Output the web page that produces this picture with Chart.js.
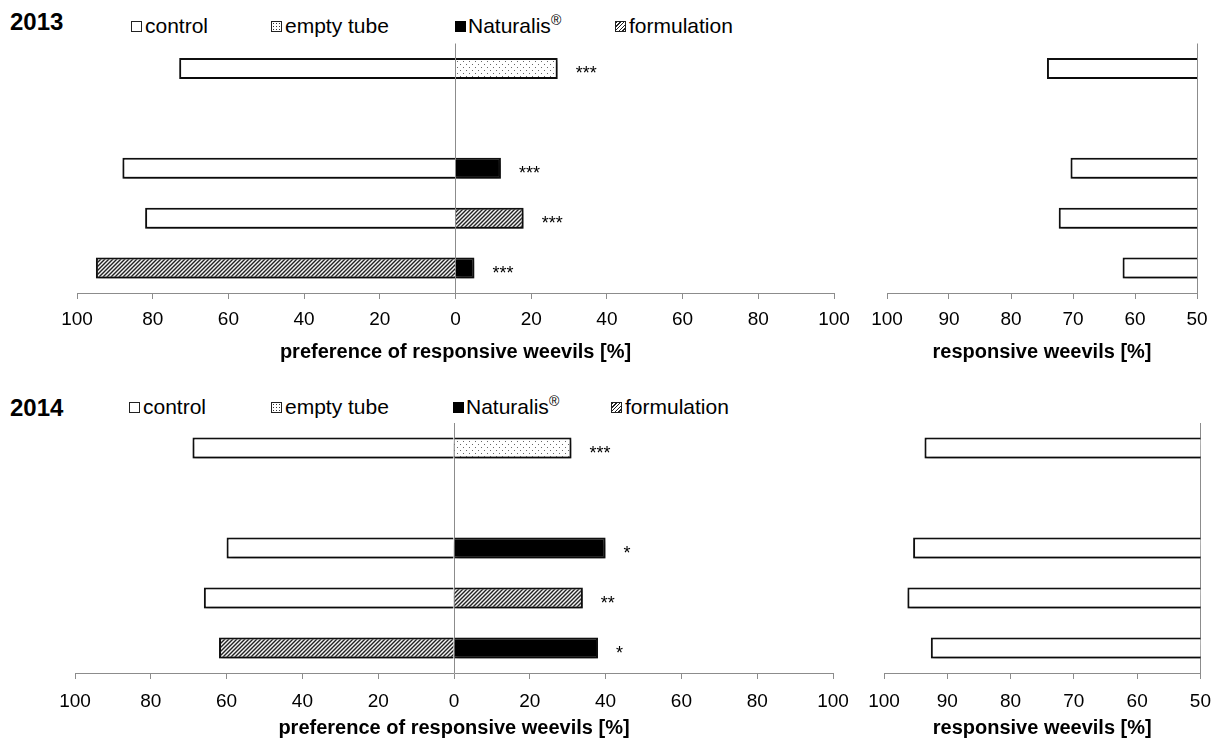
<!DOCTYPE html>
<html><head><meta charset="utf-8">
<script src="https://cdn.jsdelivr.net/npm/chart.js@4/dist/chart.umd.min.js"></script>
<style>
body{margin:0;background:#fff;width:1220px;height:740px;overflow:hidden;position:relative;font-family:"Liberation Sans",Arial,sans-serif;color:#000}
canvas{position:absolute}
.yr{position:absolute;font-weight:bold;font-size:24px;line-height:24px}
.lg{position:absolute;font-size:21px;line-height:21px;white-space:nowrap}
.lg sup{font-size:14px;line-height:0;vertical-align:8px}
.sw{position:absolute;width:9px;height:9px;border:1px solid #222;background:#fff}
.sw.dot{background:radial-gradient(circle,#333 0 0.8px,transparent 1px) 0 0/3px 3px,#fff}
.sw.blk{background:#000;border-color:#000}
.sw.hat{background:repeating-linear-gradient(135deg,#222 0 1px,#fff 1px 2.6px)}
</style></head><body>
<div class="yr" style="left:10px;top:10px">2013</div>
<div class="sw" style="left:131px;top:21px"></div><div class="lg" style="left:145px;top:15px">control</div>
<div class="sw dot" style="left:271px;top:21px"></div><div class="lg" style="left:285px;top:15px">empty tube</div>
<div class="sw blk" style="left:455px;top:21px"></div><div class="lg" style="left:468px;top:15px">Naturalis<sup>®</sup></div>
<div class="sw hat" style="left:615px;top:21px"></div><div class="lg" style="left:629px;top:15px">formulation</div>

<div class="yr" style="left:10px;top:396px">2014</div>
<div class="sw" style="left:129px;top:402px"></div><div class="lg" style="left:143px;top:396px">control</div>
<div class="sw dot" style="left:271px;top:402px"></div><div class="lg" style="left:285px;top:396px">empty tube</div>
<div class="sw blk" style="left:453px;top:402px"></div><div class="lg" style="left:466px;top:396px">Naturalis<sup>®</sup></div>
<div class="sw hat" style="left:611px;top:402px"></div><div class="lg" style="left:625px;top:396px">formulation</div>

<canvas id="p13" width="870" height="380" style="left:0;top:0"></canvas>
<canvas id="r13" width="370" height="380" style="left:850px;top:0"></canvas>
<canvas id="p14" width="870" height="360" style="left:0;top:380px"></canvas>
<canvas id="r14" width="370" height="360" style="left:850px;top:380px"></canvas>
<script>
// ---- data ----
const categories = ['control vs empty tube', '', 'control vs Naturalis®', 'control vs formulation', 'formulation vs Naturalis®'];
const leftTreatment = ['control', null, 'control', 'control', 'formulation'];
const rightTreatment = ['empty tube', null, 'Naturalis®', 'formulation', 'Naturalis®'];

const prefLeft2013 = [73, null, 88, 82, 95];
const prefRight2013 = [27, null, 12, 18, 5];
const responsive2013 = [74.2, null, 70.4, 72.3, 62.0];
const signif2013 = ['***', '', '***', '***', '***'];

const prefLeft2014 = [69, null, 60, 66, 62];
const prefRight2014 = [31, null, 40, 34, 38];
const responsive2014 = [93.6, null, 95.4, 96.3, 92.6];
const signif2014 = ['***', '', '*', '**', '*'];

const prefTitle = 'preference of responsive weevils [%]';
const respTitle = 'responsive weevils [%]';

// ---- styles ----
Chart.defaults.font.family = '"Liberation Sans", Arial, sans-serif';
Chart.defaults.color = '#000';

function makeHatch(){
  const c = document.createElement('canvas'); c.width = 4; c.height = 4;
  const g = c.getContext('2d');
  g.fillStyle = '#f4f4f4'; g.fillRect(0,0,4,4);
  g.strokeStyle = '#222'; g.lineWidth = 1.4;
  g.beginPath();
  g.moveTo(-1,5); g.lineTo(5,-1);
  g.moveTo(-1,1); g.lineTo(1,-1);
  g.moveTo(3,5); g.lineTo(5,3);
  g.stroke();
  return g.createPattern(c,'repeat');
}
function makeDots(){
  const c = document.createElement('canvas'); c.width = 6; c.height = 6;
  const g = c.getContext('2d');
  g.fillStyle = '#fff'; g.fillRect(0,0,6,6);
  g.fillStyle = '#666'; g.fillRect(1,1,1,1); g.fillRect(4,4,1,1);
  return g.createPattern(c,'repeat');
}
const fills = {'control':'#ffffff', 'empty tube':makeDots(), 'Naturalis®':'#000000', 'formulation':makeHatch()};
const fillFor = t => t ? fills[t] : '#fff';

const AXIS = '#8c8c8c';
const barCommon = {borderColor:'#111', borderWidth:2, barPercentage:0.42, categoryPercentage:1};

const shadowPlugin = {
  id:'barShadow',
  beforeDatasetsDraw(chart){ const c = chart.ctx; c.save(); c.shadowColor='rgba(0,0,0,0.5)'; c.shadowBlur=5; c.shadowOffsetX=1; c.shadowOffsetY=3; },
  afterDatasetsDraw(chart){ chart.ctx.restore(); }
};
const sigPlugin = {
  id:'sig',
  afterDatasetsDraw(chart, args, opts){
    if(!opts.labels) return;
    const meta = chart.getDatasetMeta(1), c = chart.ctx;
    c.save();
    c.font = '18px "Liberation Sans", Arial, sans-serif';
    c.fillStyle = '#000'; c.textAlign = 'left'; c.textBaseline = 'alphabetic';
    meta.data.forEach((el,i) => { const t = opts.labels[i]; if(t) c.fillText(t, el.x + 18, el.y + 11); });
    c.restore();
  }
};

function xScale(min, max, step, reverse, baseLine, title, axisH, titlePad, tickLH){
  return {
    type:'linear', min, max, reverse, stacked:true, z:1,
    afterFit: s => { s.height = axisH; },
    ticks:{stepSize:step, autoSkip:false, maxRotation:0, color:'#000', font:{size:19, lineHeight:tickLH}, padding:9,
           callback: v => Math.abs(v)},
    grid:{display:true, drawOnChartArea:true, lineWidth:1, tickLength:6, tickColor:AXIS,
          color: c => (c.tick && c.tick.value === baseLine) ? AXIS : 'rgba(0,0,0,0)'},
    border:{display:true, color:AXIS, width:1},
    title:{display:true, text:title, color:'#000', font:{size:20, weight:'bold'}, padding:{top:0, bottom:titlePad}}
  };
}

function prefChart(id, left, right, sig, pad, axisH, titlePad, tickLH){
  return new Chart(document.getElementById(id), {
    type:'bar',
    data:{labels:categories, datasets:[
      Object.assign({label:'left', data:left.map(v => v == null ? null : -v), backgroundColor:leftTreatment.map(fillFor)}, barCommon),
      Object.assign({label:'right', data:right, backgroundColor:rightTreatment.map(fillFor)}, barCommon)
    ]},
    options:{
      indexAxis:'y', responsive:false, animation:false, devicePixelRatio:1,
      layout:{padding:pad},
      plugins:{legend:{display:false}, tooltip:{enabled:false}, sig:{labels:sig}},
      scales:{ x:xScale(-100, 100, 20, false, 0, prefTitle, axisH, titlePad, tickLH), y:{display:false, stacked:true} }
    },
    plugins:[shadowPlugin, sigPlugin]
  });
}
function respChart(id, vals, pad, axisH, titlePad, tickLH){
  return new Chart(document.getElementById(id), {
    type:'bar',
    data:{labels:categories, datasets:[
      Object.assign({label:'responsive', data:vals, backgroundColor:'#ffffff'}, barCommon)
    ]},
    options:{
      indexAxis:'y', responsive:false, animation:false, devicePixelRatio:1,
      layout:{padding:pad},
      plugins:{legend:{display:false}, tooltip:{enabled:false}},
      scales:{ x:xScale(50, 100, 10, true, 50, respTitle, axisH, titlePad, tickLH), y:{display:false} }
    },
    plugins:[shadowPlugin]
  });
}

prefChart('p13', prefLeft2013, prefRight2013, signif2013, {left:77, right:36, top:43.5, bottom:0}, 87, 16, 1.2);
respChart('r13', responsive2013, {left:37, right:23, top:43.5, bottom:0}, 87, 16, 1.2);
prefChart('p14', prefLeft2014, prefRight2014, signif2014, {left:75, right:37, top:43, bottom:0}, 67, 0, 1.5);
respChart('r14', responsive2014, {left:34, right:19, top:43, bottom:0}, 67, 0, 1.5);
</script>
</body></html>
